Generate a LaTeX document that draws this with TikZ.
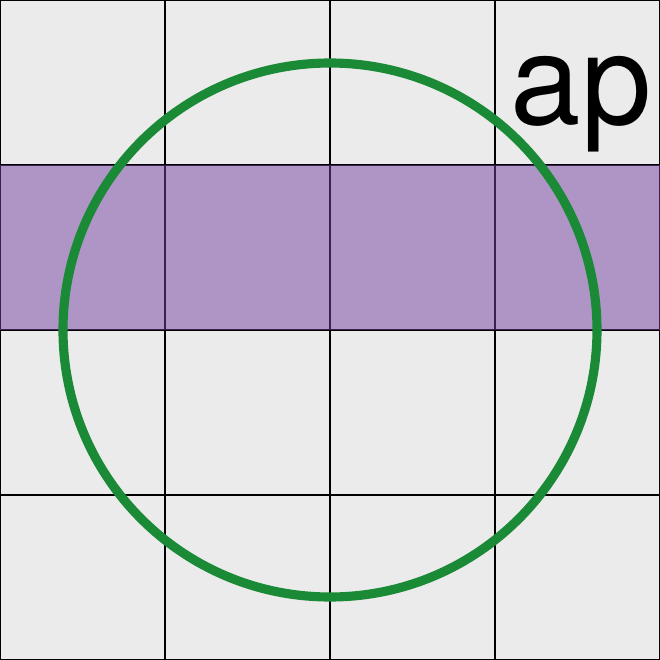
\documentclass[tikz,border=0pt]{standalone}
\usepackage{fontspec}
\setsansfont{TeX Gyre Heros}
\usepackage{xcolor}
\usetikzlibrary{positioning}
\definecolor{cellgray}{HTML}{EBEBEB}
\definecolor{bandpurple}{HTML}{7440A0}
\definecolor{ringgreen}{HTML}{1B8A36}

\begin{document}
\begin{tikzpicture}[
    gridline/.style={draw=black, line width=0.6pt},
    band/.style={fill=bandpurple, fill opacity=0.5},
    ring/.style={draw=ringgreen, line width=2.6pt},
]
    \useasboundingbox (0, 0) rectangle (6.6, 6.6);

    % Background and grid
    \fill[cellgray] (0, 0) rectangle (6.6, 6.6);
    \draw[gridline] (0, 0) grid[step=1.65] (6.6, 6.6);

    % Highlighted row
    \fill[band] (0, 3.3) rectangle (6.6, 4.95);

    % Circle
    \draw[ring] (3.3, 3.3) circle (2.67);

    % Label
    \node[anchor=base west, inner sep=0pt, font=\sffamily\fontsize{36}{43}\selectfont] (label) at (5.1, 5.36) {ap};

\end{tikzpicture}
\end{document}
